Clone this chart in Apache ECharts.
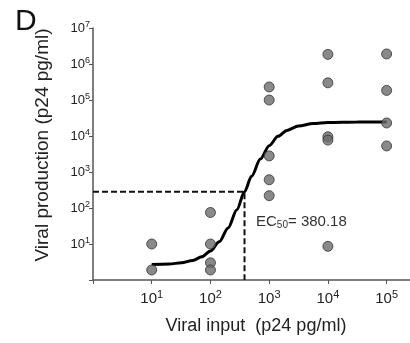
<!DOCTYPE html>
<html>
<head>
<meta charset="utf-8">
<script src="https://cdn.jsdelivr.net/npm/echarts@6/dist/echarts.min.js"></script>
<style>
  html, body { margin: 0; padding: 0; background: #fff; }
  #chart { width: 410px; height: 343px; }
</style>
</head>
<body>
<div id="chart"></div>
<script>
// viral input doses (p24 pg/ml) and replicate readings of viral production
const doses = [10, 100, 1000, 10000, 100000];
const reps10 = [10, 1.9];
const reps100 = [75, 10, 3, 1.9];
const reps1000 = [230000, 100000, 2800, 610, 220];
const reps10000 = [1850000, 300000, 9500, 7700, 8.6];
const reps100000 = [1900000, 185000, 23000, 5300];

// fitted dose-response curve
const fitX = [10, 20, 32, 50, 71, 100, 141, 200, 282, 380.18, 501, 708, 1000, 1413, 2000, 3162, 5623, 10000, 31623, 100000];
const fitY = [2.7, 2.8, 3.0, 3.5, 4.4, 6.4, 11.5, 28, 90, 283, 760, 2300, 5400, 9800, 14300, 19000, 22200, 23700, 24400, 24500];

const ec50 = 380.18;
const ec50Level = 283;

const AXIS_COLOR = '#555';
const FONT = '"Liberation Sans", Arial, sans-serif';

const repsByDose = [reps10, reps100, reps1000, reps10000, reps100000];
const points = [];
doses.forEach((d, i) => repsByDose[i].forEach((v) => points.push([d, v])));

function powLabel(v) {
  const lg = Math.log10(v);
  const e = Math.round(lg);
  if (Math.abs(lg - e) > 0.01 || e === 0) return '';
  return '{b|10}{s|' + e + '}';
}

const chart = echarts.init(document.getElementById('chart'), null, { renderer: 'canvas' });

chart.setOption({
  backgroundColor: '#fff',
  animation: false,
  textStyle: { fontFamily: FONT },
  title: {
    text: 'D', left: 10, top: 2,
    textStyle: { fontSize: 30, fontWeight: 'normal', color: '#111', fontFamily: FONT },
  },
  grid: { left: 93, right: 0, top: 28, bottom: 63, containLabel: false },
  xAxis: {
    type: 'log', logBase: 10, min: 1, max: 250000,
    name: 'Viral input  (p24 pg/ml)', nameLocation: 'middle', nameGap: 37,
    nameTextStyle: { fontSize: 18, color: '#222', fontFamily: FONT, padding: [0, 0, 0, 9] },
    axisLine: { lineStyle: { color: AXIS_COLOR, width: 1.5 } },
    axisTick: { length: 4, lineStyle: { color: AXIS_COLOR, width: 1 } },
    splitLine: { show: false },
    axisLabel: {
      margin: 9, color: '#222', formatter: powLabel, showMaxLabel: false,
      rich: {
        b: { fontSize: 15, fontFamily: FONT, color: '#222' },
        s: { fontSize: 11, fontFamily: FONT, color: '#222', padding: [0, 0, 8, 0] },
      },
    },
  },
  yAxis: {
    type: 'log', logBase: 10, min: 1, max: 10000000,
    name: 'Viral production (p24 pg/ml)', nameLocation: 'middle', nameGap: 41,
    nameTextStyle: { fontSize: 19, color: '#222', fontFamily: FONT, padding: [0, 0, 0, 18] },
    axisLine: { lineStyle: { color: AXIS_COLOR, width: 1.5 } },
    axisTick: { length: 4, lineStyle: { color: AXIS_COLOR, width: 1 } },
    splitLine: { show: false },
    axisLabel: {
      margin: 3, color: '#222', formatter: powLabel,
      rich: {
        b: { fontSize: 13, fontFamily: FONT, color: '#222' },
        s: { fontSize: 9, fontFamily: FONT, color: '#222', padding: [0, 0, 7, 0] },
      },
    },
  },
  series: [
    {
      type: 'line', name: 'EC50 guide', z: 2, symbol: 'none', silent: true,
      data: [[1, ec50Level], [ec50, ec50Level], [ec50, 1]],
      lineStyle: { color: '#111', width: 2, type: [6, 3] },
    },
    {
      type: 'line', name: 'fit', z: 3, symbol: 'none', smooth: 0.3, smoothMonotone: 'x',
      data: fitX.map((x, i) => [x, fitY[i]]),
      lineStyle: { color: '#000', width: 3 },
    },
    {
      type: 'scatter', name: 'replicates', z: 4, symbol: 'circle', symbolSize: 10,
      data: points,
      itemStyle: { color: '#6b6b6b', borderColor: '#333', borderWidth: 1 },
    },
  ],
  graphic: [{
    type: 'text', left: 256, top: 214, z: 10,
    style: {
      text: '{t|EC}{u|50}{t|= 380.18}',
      rich: {
        t: { fontSize: 15, fontFamily: FONT, fill: '#333' },
        u: { fontSize: 10, fontFamily: FONT, fill: '#333', padding: [7, 0, 0, 0] },
      },
    },
  }],
});
</script>
</body>
</html>
